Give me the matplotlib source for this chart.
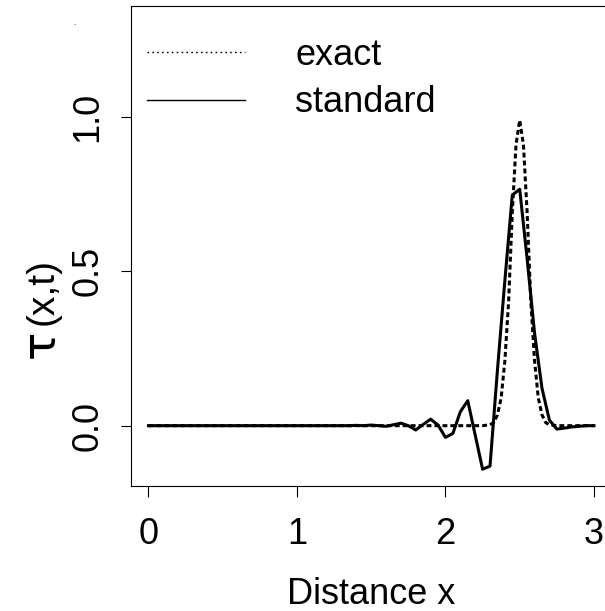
from __future__ import annotations

import matplotlib as mpl
import matplotlib.pyplot as plt
from matplotlib.lines import Line2D


# "standard" solution, sampled every 0.05 on [0, 3]
STANDARD_X = [
    0.00, 0.05, 0.10, 0.15, 0.20, 0.25, 0.30, 0.35, 0.40, 0.45,
    0.50, 0.55, 0.60, 0.65, 0.70, 0.75, 0.80, 0.85, 0.90, 0.95,
    1.00, 1.05, 1.10, 1.15, 1.20, 1.25, 1.30, 1.35, 1.40, 1.45,
    1.50, 1.55, 1.60, 1.65, 1.70, 1.75, 1.80, 1.85, 1.90, 1.95,
    2.00, 2.05, 2.10, 2.15, 2.20, 2.25, 2.30, 2.35, 2.40, 2.45,
    2.50, 2.55, 2.60, 2.65, 2.70, 2.75, 2.80, 2.85, 2.90, 2.95,
    3.00,
]
STANDARD_Y = [
    0.0, 0.0, 0.0, 0.0, 0.0, 0.0, 0.0, 0.0, 0.0, 0.0,
    0.0, 0.0, 0.0, 0.0, 0.0, 0.0, 0.0, 0.0, 0.0, 0.0,
    0.0, 0.0, 0.0, 0.0, 0.0, 0.0, 0.0, 0.0, 0.001, 0.0,
    0.002, 0.0, -0.002, 0.003, 0.008, 0.0, -0.014, 0.004, 0.021, 0.002,
    -0.038, -0.025, 0.045, 0.081, -0.030, -0.141, -0.131, 0.180, 0.470, 0.747,
    0.766, 0.540, 0.300, 0.121, 0.018, -0.011, -0.008, -0.004, -0.002, 0.0,
    0.0,
]

# exact pulse
EXACT_X = [
    0.0, 2.25, 2.30, 2.325, 2.35, 2.375, 2.40, 2.425, 2.45, 2.475, 2.50,
    2.525, 2.55, 2.575, 2.60, 2.625, 2.65, 2.675, 2.70, 2.75, 3.0,
]
EXACT_Y = [
    0.0, 0.0, 0.003, 0.01, 0.035, 0.09, 0.21, 0.40, 0.69, 0.91, 0.99,
    0.91, 0.69, 0.40, 0.21, 0.09, 0.035, 0.01, 0.003, 0.0, 0.0,
]

X_TICKS = [0, 1, 2, 3]
Y_TICKS = [0.0, 0.5, 1.0]
Y_TICK_LABELS = ["0.0", "0.5", "1.0"]
SERIES_LABELS = ["exact", "standard"]


def configure_matplotlib() -> None:
    mpl.rcParams.update(
        {
            "font.family": ["Liberation Sans", "DejaVu Sans"],
            "font.size": 26,
            "axes.linewidth": 0.8,
            "xtick.major.width": 0.8,
            "ytick.major.width": 0.8,
            "xtick.direction": "out",
            "ytick.direction": "out",
            "legend.frameon": False,
        }
    )


def main() -> None:
    configure_matplotlib()
    fig = plt.figure(figsize=(6.05, 6.11), dpi=100)
    ax = fig.add_axes([0.2160, 0.2051, 0.7952, 0.7851])

    ax.plot(EXACT_X, EXACT_Y, color="black", lw=2.2, ls=(0, (1.6, 1.0)), zorder=3)
    ax.plot(STANDARD_X, STANDARD_Y, color="black", lw=2.2, ls="-", zorder=2)

    ax.set_xlim(-0.12, 3.12)
    ax.set_ylim(-0.1944, 1.3596)
    ax.set_xticks(X_TICKS)
    ax.set_yticks(Y_TICKS)
    ax.set_yticklabels(Y_TICK_LABELS, rotation=90, va="center")
    ax.tick_params(axis="x", length=7.9, pad=15)
    ax.tick_params(axis="y", length=7.2, pad=11)
    ax.set_xlabel("Distance x", labelpad=18)

    # y label: large tau followed by (x,t), written bottom-to-top
    fig.text(0.068, 0.438, "τ", rotation=90, ha="center", va="center",
             fontsize=34, family=["DejaVu Sans"])
    fig.text(0.070, 0.523, "(x,t)", rotation=90, ha="center", va="center",
             fontsize=28)
    fig.text(0.1223, 0.961, ".", ha="center", va="center", fontsize=6)

    handles = [
        Line2D([0], [0], color="black", lw=1.0, ls=(0, (1.2, 2.3))),
        Line2D([0], [0], color="black", lw=1.0, ls="-"),
    ]
    ax.legend(
        handles=handles,
        labels=SERIES_LABELS,
        loc="upper left",
        bbox_to_anchor=(-0.0104, 0.979),
        handlelength=2.7,
        handletextpad=1.4,
        labelspacing=0.35,
        borderaxespad=0.3,
        borderpad=0.3,
    )

    fig.savefig("out.png", dpi=100)
    plt.close(fig)


if __name__ == "__main__":
    main()
